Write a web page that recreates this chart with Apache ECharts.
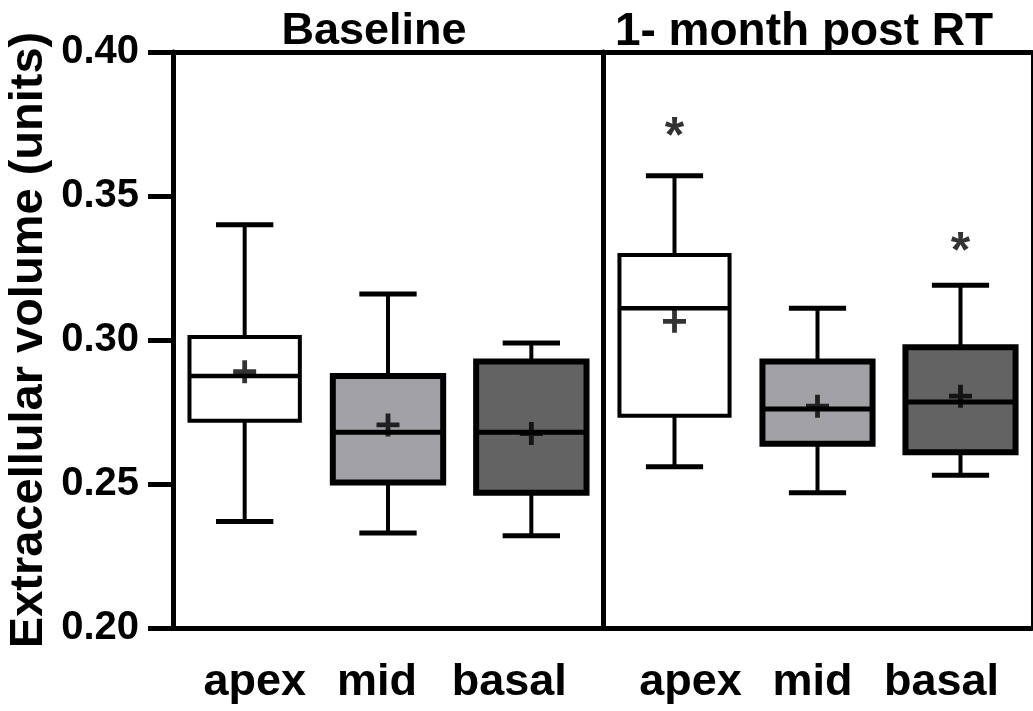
<!DOCTYPE html>
<html>
<head>
<meta charset="utf-8">
<script src="https://cdn.jsdelivr.net/npm/echarts@6/dist/echarts.min.js"></script>
<style>
  html, body { margin: 0; padding: 0; background: #fff; }
  #chart { width: 1033px; height: 711px; }
</style>
</head>
<body>
<div id="chart"></div>
<script>
// categories and values
var categories = ['apex', 'mid', 'basal'];
var panelTitles = ['Baseline', '1- month post RT'];
var yTicks = [0.20, 0.25, 0.30, 0.35, 0.40];

// [min, Q1, median, Q3, max]
var baselineBox = [
  [0.237, 0.272, 0.2875, 0.301, 0.340],
  [0.233, 0.2505, 0.268, 0.2875, 0.316],
  [0.232, 0.247, 0.268, 0.2925, 0.299]
];
var baselineMean = [0.289, 0.2705, 0.2675];

var postBox = [
  [0.256, 0.2737, 0.311, 0.3295, 0.357],
  [0.247, 0.264, 0.276, 0.2925, 0.311],
  [0.253, 0.261, 0.2785, 0.2975, 0.319]
];
var postMean = [0.3065, 0.277, 0.2805];

// significance markers (category, height of the star)
var postStars = [[0, 0.3735], [2, 0.3335]];

var fills = ['#ffffff', '#a2a1a6', '#636363'];
var boxLine = [4, 6, 6];
var medLine = [4.5, 5, 5];
var font = 'Liberation Sans';

var myChart = echarts.init(document.getElementById('chart'));

function toRows(box) {
  return box.map(function(b, i) { return [i].concat(b); });
}

function renderBox(params, api) {
  var i = api.value(0);
  var x = api.coord([i, 0])[0];
  var band = api.size([1, 0])[0];
  var half = band * 0.385;
  var cap = band * 0.2;
  var yMin = api.coord([i, api.value(1)])[1];
  var yQ1 = api.coord([i, api.value(2)])[1];
  var yMed = api.coord([i, api.value(3)])[1];
  var yQ3 = api.coord([i, api.value(4)])[1];
  var yMax = api.coord([i, api.value(5)])[1];
  var black = '#000';
  return {
    type: 'group',
    children: [
      { type: 'line', shape: { x1: x, y1: yQ3, x2: x, y2: yMax }, style: { stroke: black, lineWidth: 4 } },
      { type: 'line', shape: { x1: x, y1: yQ1, x2: x, y2: yMin }, style: { stroke: black, lineWidth: 4 } },
      { type: 'line', shape: { x1: x - cap, y1: yMax, x2: x + cap, y2: yMax }, style: { stroke: black, lineWidth: 5 } },
      { type: 'line', shape: { x1: x - cap, y1: yMin, x2: x + cap, y2: yMin }, style: { stroke: black, lineWidth: 5 } },
      { type: 'rect', shape: { x: x - half, y: yQ3, width: half * 2, height: yQ1 - yQ3 },
        style: { fill: fills[i], stroke: black, lineWidth: boxLine[i] } },
      { type: 'line', shape: { x1: x - half, y1: yMed, x2: x + half, y2: yMed }, style: { stroke: black, lineWidth: medLine[i] } }
    ]
  };
}

var plus = 'path://M0,9.5H9.5V0H14.5V9.5H24V14.5H14.5V24H9.5V14.5H0Z';

// small shifts of the bottom labels, as in the figure
function labelRich(shifts) {
  var rich = {};
  shifts.forEach(function(s, i) {
    rich['p' + i] = {
      fontFamily: font, fontWeight: 'bold', fontSize: 45, color: '#000',
      padding: s > 0 ? [0, 0, 0, 2 * s] : [0, -2 * s, 0, 0]
    };
  });
  return rich;
}

function bottomAxis(gridIndex, shifts) {
  return {
    type: 'category', gridIndex: gridIndex, data: categories, position: 'bottom',
    axisLine: { lineStyle: { color: '#000', width: 5 } },
    axisTick: { alignWithLabel: true, length: 22, lineStyle: { color: '#000', width: 4 } },
    axisLabel: {
      interval: 0, margin: 32,
      formatter: function(v, i) { return '{p' + i + '|' + v + '}'; },
      rich: labelRich(shifts)
    },
    splitLine: { show: false }
  };
}

function topAxis(gridIndex) {
  return {
    type: 'category', gridIndex: gridIndex, data: categories, position: 'top',
    axisLine: { lineStyle: { color: '#000', width: 5 } },
    axisTick: { show: false }, axisLabel: { show: false }
  };
}

var option = {
  backgroundColor: '#fff',
  animation: false,
  title: [
    { text: panelTitles[0], left: 374, top: 9, padding: 0, textAlign: 'center',
      textStyle: { fontFamily: font, fontWeight: 'bold', fontSize: 45, color: '#000' } },
    { text: panelTitles[1], left: 804, top: 9, padding: 0, textAlign: 'center',
      textStyle: { fontFamily: font, fontWeight: 'bold', fontSize: 46, color: '#000' } }
  ],
  grid: [
    { left: 173, top: 52, width: 430, height: 576 },
    { left: 603, top: 52, width: 429, height: 576 }
  ],
  xAxis: [
    bottomAxis(0, [10, -11, -22]),
    bottomAxis(1, [16, -5, -19]),
    topAxis(0),
    topAxis(1)
  ],
  yAxis: [
    {
      type: 'value', gridIndex: 0, min: yTicks[0], max: yTicks[yTicks.length - 1], interval: 0.05,
      name: 'Extracellular volume (units)', nameLocation: 'middle', nameGap: 120,
      nameTextStyle: { fontFamily: font, fontWeight: 'bold', fontSize: 47, color: '#000' },
      axisLine: { show: true, lineStyle: { color: '#000', width: 5 } },
      axisTick: { show: true, length: 25, lineStyle: { color: '#000', width: 5 } },
      axisLabel: { margin: 34, fontFamily: font, fontWeight: 'bold', fontSize: 40, color: '#000',
        formatter: function(v) { return v.toFixed(2); } },
      splitLine: { show: false }
    },
    {
      type: 'value', gridIndex: 1, min: yTicks[0], max: yTicks[yTicks.length - 1], interval: 0.05,
      axisLine: { show: true, lineStyle: { color: '#000', width: 5 } },
      axisTick: { show: false }, axisLabel: { show: false }, splitLine: { show: false }
    },
    {
      type: 'value', gridIndex: 1, position: 'right', min: yTicks[0], max: yTicks[yTicks.length - 1],
      axisLine: { show: true, lineStyle: { color: '#000', width: 3 } },
      axisTick: { show: false }, axisLabel: { show: false }, splitLine: { show: false }
    }
  ],
  series: [
    {
      type: 'custom', name: 'Baseline', xAxisIndex: 0, yAxisIndex: 0,
      renderItem: renderBox, encode: { x: 0, y: [1, 2, 3, 4, 5] },
      data: toRows(baselineBox)
    },
    {
      type: 'custom', name: '1- month post RT', xAxisIndex: 1, yAxisIndex: 1,
      renderItem: renderBox, encode: { x: 0, y: [1, 2, 3, 4, 5] },
      data: toRows(postBox)
    },
    {
      type: 'scatter', name: 'mean', xAxisIndex: 0, yAxisIndex: 0, z: 5,
      symbol: plus, symbolSize: 23, itemStyle: { color: '#000' },
      data: baselineMean
    },
    {
      type: 'scatter', name: 'mean', xAxisIndex: 1, yAxisIndex: 1, z: 5,
      symbol: plus, symbolSize: 23, itemStyle: { color: '#000' },
      data: postMean
    },
    {
      type: 'scatter', name: 'star', xAxisIndex: 1, yAxisIndex: 1, z: 5,
      symbolSize: 1, itemStyle: { color: 'rgba(0,0,0,0)' },
      label: { show: true, position: 'inside', formatter: '*', offset: [0, 10],
        fontFamily: font, fontWeight: 'bold', fontSize: 50, color: '#000' },
      data: postStars
    }
  ]
};

myChart.setOption(option);
window.addEventListener('resize', function() {
  myChart.resize();
});
</script>
</body>
</html>
